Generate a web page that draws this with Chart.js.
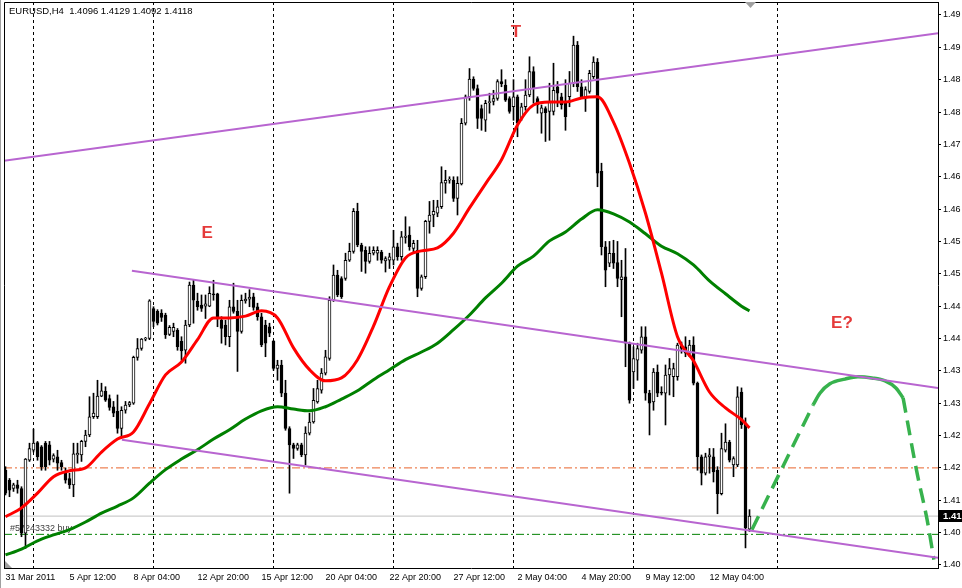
<!DOCTYPE html>
<html><head><meta charset="utf-8">
<script src="https://cdn.jsdelivr.net/npm/chart.js@4/dist/chart.umd.min.js"></script>
<style>html,body{margin:0;padding:0;background:#fff;overflow:hidden}canvas{display:block}</style>
</head><body>
<canvas id="c" width="962" height="588"></canvas>
<script>
// ---------- data ----------
const symbol = 'EURUSD,H4';
const openP = [1.4196,1.4179,1.4165,1.4171,1.4165,1.4089,1.4213,1.4230,1.4243,1.4236,1.4242,1.4239,1.4215,1.4219,1.4209,1.4194,1.4182,1.4171,1.4222,1.4222,1.4245,1.4256,1.4287,1.4287,1.4322,1.4330,1.4318,1.4304,1.4296,1.4267,1.4298,1.4307,1.4310,1.4388,1.4403,1.4419,1.4420,1.4471,1.4466,1.4463,1.4460,1.4427,1.4432,1.4434,1.4415,1.4400,1.4443,1.4511,1.4483,1.4477,1.4475,1.4475,1.4496,1.4496,1.4451,1.4443,1.4423,1.4474,1.4466,1.4432,1.4484,1.4487,1.4491,1.4474,1.4457,1.4443,1.4440,1.4415,1.4369,1.4375,1.4327,1.4267,1.4239,1.4233,1.4239,1.4222,1.4259,1.4278,1.4312,1.4332,1.4361,1.4386,1.4485,1.4528,1.4522,1.4522,1.4553,1.4568,1.4636,1.4579,1.4570,1.4551,1.4565,1.4565,1.4567,1.4552,1.4553,1.4553,1.4576,1.4559,1.4592,1.4596,1.4573,1.4570,1.4505,1.4525,1.4619,1.4630,1.4633,1.4644,1.4684,1.4689,1.4689,1.4658,1.4683,1.4786,1.4831,1.4861,1.4845,1.4811,1.4791,1.4821,1.4823,1.4828,1.4857,1.4851,1.4828,1.4814,1.4831,1.4794,1.4814,1.4834,1.4874,1.4828,1.4803,1.4811,1.4806,1.4806,1.4848,1.4831,1.4823,1.4831,1.4854,1.4919,1.4848,1.4831,1.4840,1.4865,1.4890,1.4704,1.4576,1.4548,1.4565,1.4549,1.4520,1.4525,1.4412,1.4363,1.4383,1.4400,1.4423,1.4327,1.4312,1.4363,1.4329,1.4327,1.4358,1.4355,1.4355,1.4407,1.4406,1.4395,1.4409,1.4344,1.4219,1.4191,1.4219,1.4219,1.4196,1.4156,1.4230,1.4244,1.4205,1.4205,1.4329,1.4276,1.4096];
const highP = [1.4202,1.4182,1.4174,1.4179,1.4168,1.4216,1.4242,1.4266,1.4245,1.4238,1.4245,1.4245,1.4224,1.4230,1.4213,1.4200,1.4191,1.4242,1.4242,1.4247,1.4264,1.4321,1.4327,1.4349,1.4344,1.4338,1.4324,1.4313,1.4324,1.4304,1.4313,1.4313,1.4390,1.4420,1.4420,1.4422,1.4486,1.4474,1.4469,1.4469,1.4463,1.4442,1.4446,1.4437,1.4423,1.4451,1.4516,1.4519,1.4497,1.4494,1.4494,1.4508,1.4519,1.4497,1.4457,1.4451,1.4485,1.4514,1.4485,1.4494,1.4497,1.4503,1.4497,1.4480,1.4463,1.4451,1.4446,1.4417,1.4383,1.4383,1.4349,1.4270,1.4242,1.4242,1.4242,1.4270,1.4293,1.4335,1.4349,1.4369,1.4400,1.4491,1.4545,1.4536,1.4525,1.4565,1.4582,1.4641,1.4650,1.4582,1.4576,1.4576,1.4576,1.4576,1.4570,1.4559,1.4565,1.4604,1.4582,1.4602,1.4627,1.4610,1.4587,1.4587,1.4528,1.4621,1.4653,1.4655,1.4655,1.4712,1.4706,1.4695,1.4695,1.4695,1.4794,1.4834,1.4879,1.4865,1.4851,1.4817,1.4825,1.4837,1.4842,1.4860,1.4877,1.4860,1.4831,1.4860,1.4834,1.4820,1.4860,1.4899,1.4882,1.4831,1.4817,1.4814,1.4854,1.4888,1.4857,1.4837,1.4860,1.4874,1.4934,1.4925,1.4860,1.4848,1.4876,1.4899,1.4896,1.4718,1.4585,1.4585,1.4587,1.4585,1.4553,1.4573,1.4414,1.4406,1.4412,1.4440,1.4440,1.4332,1.4369,1.4375,1.4338,1.4375,1.4386,1.4378,1.4412,1.4414,1.4423,1.4417,1.4423,1.4346,1.4222,1.4225,1.4233,1.4233,1.4202,1.4259,1.4275,1.4247,1.4219,1.4338,1.4336,1.4285,1.4129];
const lowP = [1.4154,1.4151,1.4160,1.4157,1.4083,1.4063,1.4211,1.4227,1.4213,1.4196,1.4196,1.4205,1.4210,1.4196,1.4196,1.4174,1.4165,1.4151,1.4208,1.4211,1.4236,1.4253,1.4284,1.4284,1.4321,1.4313,1.4298,1.4287,1.4259,1.4253,1.4293,1.4304,1.4308,1.4383,1.4400,1.4416,1.4418,1.4440,1.4443,1.4449,1.4420,1.4425,1.4423,1.4400,1.4383,1.4378,1.4440,1.4446,1.4468,1.4466,1.4454,1.4474,1.4485,1.4440,1.4412,1.4409,1.4406,1.4463,1.4364,1.4429,1.4480,1.4474,1.4468,1.4451,1.4406,1.4389,1.4423,1.4366,1.4349,1.4321,1.4264,1.4157,1.4216,1.4230,1.4219,1.4205,1.4256,1.4276,1.4310,1.4327,1.4358,1.4383,1.4483,1.4491,1.4488,1.4519,1.4551,1.4565,1.4576,1.4534,1.4531,1.4548,1.4562,1.4553,1.4548,1.4533,1.4539,1.4545,1.4553,1.4553,1.4582,1.4570,1.4565,1.4491,1.4502,1.4522,1.4599,1.4610,1.4627,1.4641,1.4667,1.4684,1.4653,1.4630,1.4681,1.4783,1.4825,1.4842,1.4777,1.4774,1.4772,1.4803,1.4817,1.4825,1.4848,1.4823,1.4803,1.4791,1.4763,1.4791,1.4808,1.4831,1.4820,1.4803,1.4769,1.4755,1.4757,1.4800,1.4814,1.4810,1.4774,1.4814,1.4848,1.4840,1.4828,1.4806,1.4837,1.4862,1.4678,1.4562,1.4508,1.4542,1.4539,1.4508,1.4457,1.4372,1.4310,1.4335,1.4349,1.4395,1.4315,1.4256,1.4298,1.4321,1.4324,1.4273,1.4324,1.4321,1.4349,1.4395,1.4389,1.4389,1.4341,1.4196,1.4171,1.4188,1.4191,1.4176,1.4122,1.4154,1.4227,1.4210,1.4185,1.4202,1.4267,1.4064,1.4092];
const closeP = [1.4157,1.4162,1.4171,1.4165,1.4089,1.4215,1.4233,1.4242,1.4219,1.4202,1.4202,1.4213,1.4221,1.4208,1.4202,1.4179,1.4171,1.4224,1.4225,1.4245,1.4256,1.4287,1.4293,1.4322,1.4331,1.4315,1.4303,1.4293,1.4267,1.4298,1.4307,1.4311,1.4388,1.4403,1.4419,1.4420,1.4484,1.4449,1.4446,1.4456,1.4426,1.4439,1.4439,1.4406,1.4399,1.4443,1.4511,1.4485,1.4474,1.4471,1.4479,1.4497,1.4494,1.4457,1.4437,1.4423,1.4474,1.4466,1.4432,1.4485,1.4487,1.4490,1.4473,1.4457,1.4409,1.4412,1.4429,1.4369,1.4375,1.4327,1.4267,1.4239,1.4233,1.4239,1.4222,1.4259,1.4278,1.4315,1.4335,1.4361,1.4389,1.4485,1.4528,1.4494,1.4491,1.4553,1.4568,1.4636,1.4579,1.4568,1.4551,1.4565,1.4570,1.4570,1.4553,1.4556,1.4559,1.4576,1.4559,1.4593,1.4594,1.4576,1.4582,1.4505,1.4525,1.4619,1.4630,1.4636,1.4644,1.4685,1.4689,1.4691,1.4658,1.4684,1.4786,1.4831,1.4861,1.4845,1.4794,1.4794,1.4820,1.4823,1.4828,1.4857,1.4853,1.4825,1.4806,1.4831,1.4786,1.4814,1.4834,1.4874,1.4845,1.4817,1.4812,1.4804,1.4823,1.4842,1.4837,1.4817,1.4797,1.4854,1.4919,1.4848,1.4831,1.4843,1.4871,1.4890,1.4701,1.4576,1.4536,1.4565,1.4548,1.4522,1.4525,1.4412,1.4315,1.4386,1.4403,1.4423,1.4327,1.4310,1.4363,1.4327,1.4327,1.4358,1.4369,1.4369,1.4409,1.4403,1.4395,1.4409,1.4344,1.4219,1.4191,1.4219,1.4222,1.4193,1.4156,1.4233,1.4244,1.4213,1.4216,1.4321,1.4273,1.4098,1.4118];

// moving averages, read every 4 bars
const maIdx = [0,4,8,12,16,20,24,28,32,36,40,44,48,52,56,60,64,68,72,76,80,84,88,92,96,100,104,108,112,116,120,124,128,132,136,140,144,148,152,156,160,164,168,172,176,180,184,186];
const maRed = [1.4117,1.4132,1.4157,1.4185,1.4195,1.4200,1.4227,1.4249,1.4261,1.4309,1.4358,1.4380,1.4418,1.4455,1.4455,1.4458,1.4467,1.4455,1.4404,1.4367,1.4348,1.4353,1.4384,1.4441,1.4508,1.4557,1.4569,1.4574,1.4599,1.4642,1.4683,1.4724,1.4783,1.4817,1.4822,1.4822,1.4829,1.4831,1.4788,1.4718,1.4633,1.4531,1.4423,1.4382,1.4329,1.4302,1.4282,1.4268];
const maGreen = [1.4052,1.4062,1.4076,1.4086,1.4095,1.4108,1.4123,1.4135,1.4149,1.4174,1.4197,1.4215,1.4231,1.4249,1.4265,1.4283,1.4297,1.4304,1.4300,1.4297,1.4304,1.4317,1.4331,1.4350,1.4367,1.4384,1.4397,1.4412,1.4435,1.4460,1.4489,1.4514,1.4543,1.4560,1.4586,1.4601,1.4623,1.4639,1.4632,1.4618,1.4598,1.4577,1.4564,1.4545,1.4518,1.4496,1.4475,1.4467];

// trend lines [startIdx, startPrice, endIdx, endPrice]
const upperLine = [-0.375, 1.4722, 233.125, 1.4939];
const midLine   = [31.6, 1.4535, 233.125, 1.4336];
const lowLine   = [29.1, 1.4248, 233.125, 1.4047];

// projected path
const projUpIdx = [186.6, 201.9];            const projUpVal = [1.4095, 1.4307];
const projArcIdx = [201.9, 203.6, 206.1, 209.9, 213.1, 216.6, 219.9, 222.6, 224.4];
const projArcVal = [1.4307, 1.4327, 1.4343, 1.4351, 1.4355, 1.4353, 1.4348, 1.4336, 1.4319];
const projDnIdx = [224.4, 227.9, 230.4, 232.1]; const projDnVal = [1.4319, 1.4191, 1.4112, 1.4044];

// horizontal levels
const bidPrice = 1.4118;
const tpPrice = 1.4200;
const orderPrice = 1.4087;
const orderText = '#57243332 buy';

// annotations
const noteText = ['T', 'E', 'E?'];
const noteIdx = [127.6, 50.4, 209.1];
const noteVal = [1.4941, 1.4598, 1.4445];

// axes
const xLabelIdx = [0,16,32,48,64,80,96,112,128,144,160,176];
const xLabels = ['31 Mar 2011','5 Apr 12:00','8 Apr 04:00','12 Apr 20:00','15 Apr 12:00','20 Apr 04:00','22 Apr 20:00','27 Apr 12:00','2 May 04:00','4 May 20:00','9 May 12:00','12 May 04:00'];
const gridIdx = [7,37,67,97,127,157,193];
const yTickVals = [1.4970,1.4915,1.4860,1.4805,1.4750,1.4695,1.4640,1.4585,1.4530,1.4475,1.4420,1.4365,1.4310,1.4255,1.4200,1.4145,1.4090,1.4035];
const yTickLabels = ['1.49','1.49','1.48','1.48','1.47','1.46','1.46','1.45','1.45','1.44','1.44','1.43','1.43','1.42','1.42','1.41','1.40','1.40'];

const X_MIN = -0.375, X_MAX = 233.125;
const Y_MIN = 1.40298, Y_MAX = 1.49921;
const FONT = '"Liberation Sans", Arial, sans-serif';

// ---------- build ----------
const idx = openP.map((_, i) => i);
const pts = (xs, ys) => xs.map((x, k) => ({x: x, y: ys[k]}));
const seg = a => [{x: a[0], y: a[1]}, {x: a[2], y: a[3]}];
const hline = v => [{x: X_MIN, y: v}, {x: X_MAX, y: v}];
const last = openP.length - 1;

const lineDs = (data, color, width, order, extra) => Object.assign({
  type: 'line', data: data, borderColor: color, borderWidth: width, pointRadius: 0,
  fill: false, order: order, tension: 0
}, extra || {});

const decor = {
  id: 'decor',
  beforeDraw(chart) {
    const c = chart.ctx;
    c.save();
    c.fillStyle = '#ffffff';
    c.fillRect(0, 0, chart.width, chart.height);
    c.fillStyle = '#a0a0a0';
    c.fillRect(0, 0, 1, chart.height);
    c.restore();
  },
  beforeDatasetsDraw(chart) {
    const c = chart.ctx, xs = chart.scales.x, ys = chart.scales.y;
    c.save();
    c.font = '9px ' + FONT;
    c.fillStyle = '#404040';
    c.textBaseline = 'bottom';
    c.fillText(orderText, xs.getPixelForValue(1.1), ys.getPixelForValue(orderPrice) - 1);
    c.restore();
  },
  afterDatasetsDraw(chart) {
    const c = chart.ctx, xs = chart.scales.x, ys = chart.scales.y, a = chart.chartArea;
    c.save();
    c.strokeStyle = '#000'; c.lineWidth = 1;
    c.beginPath();
    c.moveTo(a.left + 0.5, a.bottom); c.lineTo(a.left + 0.5, a.top + 0.5); c.lineTo(a.right, a.top + 0.5);
    c.stroke();
    c.font = '9.5px ' + FONT;
    c.fillStyle = '#000';
    c.textBaseline = 'middle';
    const hdr = symbol + '  ' + [openP[last], highP[last], lowP[last], closeP[last]].map(v => v.toFixed(4)).join(' ');
    c.fillText(hdr, a.left + 5, a.top + 9);
    c.fillStyle = '#a0a0a0';
    c.beginPath(); c.moveTo(745, a.top); c.lineTo(756, a.top); c.lineTo(750.5, a.top + 6); c.closePath(); c.fill();
    c.beginPath(); c.moveTo(a.left + 1, a.bottom - 7); c.lineTo(a.left + 1, a.bottom); c.lineTo(a.left + 8, a.bottom); c.closePath(); c.fill();
    c.font = 'bold 17px ' + FONT;
    c.fillStyle = '#e53a3a';
    c.textAlign = 'center';
    noteText.forEach((t, k) => c.fillText(t, xs.getPixelForValue(noteIdx[k]), ys.getPixelForValue(noteVal[k])));
    c.restore();
  },
  afterDraw(chart) {
    const c = chart.ctx, ys = chart.scales.y, a = chart.chartArea;
    const py = Math.round(ys.getPixelForValue(closeP[last]));
    c.save();
    c.fillStyle = '#000';
    c.fillRect(a.right + 1, py - 6, chart.width - a.right - 1, 12);
    c.fillStyle = '#fff';
    c.font = 'bold 9.5px ' + FONT;
    c.textBaseline = 'middle';
    c.fillText(closeP[last].toFixed(4).slice(0, 4), a.right + 5, py + 0.5);
    c.restore();
  }
};

new Chart(document.getElementById('c'), {
  type: 'bar',
  data: {
    datasets: [
      lineDs(seg(upperLine), '#b865d0', 2, 1),
      lineDs(seg(midLine), '#b865d0', 2, 1),
      lineDs(seg(lowLine), '#b865d0', 2, 1),
      lineDs(pts(projUpIdx, projUpVal), '#37b24d', 3.5, 1, {borderDash: [15, 8]}),
      lineDs(pts(projArcIdx, projArcVal), '#37b24d', 3.5, 1, {cubicInterpolationMode: 'monotone'}),
      lineDs(pts(projDnIdx, projDnVal), '#37b24d', 3.5, 1, {borderDash: [15, 8], cubicInterpolationMode: 'monotone'}),
      lineDs(pts(maIdx, maRed), '#ff0000', 3, 2, {cubicInterpolationMode: 'monotone'}),
      lineDs(pts(maIdx, maGreen), '#008000', 3, 3, {cubicInterpolationMode: 'monotone'}),
      {
        type: 'bar', order: 5, grouped: false, barThickness: 3, minBarLength: 1,
        data: idx.map(i => ({x: i, y: [openP[i], closeP[i]]})),
        backgroundColor: ctx => (closeP[ctx.dataIndex] >= openP[ctx.dataIndex] ? '#ffffff' : '#000000'),
        borderColor: '#000000', borderWidth: 1, borderSkipped: false
      },
      {
        type: 'bar', order: 6, grouped: false, barThickness: 1,
        data: idx.map(i => ({x: i, y: [lowP[i], highP[i]]})),
        backgroundColor: '#000000', borderWidth: 0
      },
      lineDs(hline(bidPrice), '#c0c0c0', 1, 8),
      lineDs(hline(tpPrice), '#e8642c', 1, 8, {borderDash: [8, 3, 2, 3]}),
      lineDs(hline(orderPrice), '#008000', 1, 8, {borderDash: [8, 3, 2, 3]})
    ]
  },
  options: {
    responsive: false, animation: false, devicePixelRatio: 1, events: [],
    layout: {padding: {left: 4, top: 2, right: 0, bottom: 0}},
    plugins: {legend: {display: false}, tooltip: {enabled: false}},
    scales: {
      x: {
        type: 'linear', position: 'bottom', min: X_MIN, max: X_MAX, offset: false,
        afterBuildTicks: s => { s.ticks = xLabelIdx.concat(gridIdx).sort((a, b) => a - b).map(v => ({value: v})); },
        afterFit: s => { s.height = 20; s.paddingLeft = 0; s.paddingRight = 0; },
        ticks: {
          autoSkip: false, maxRotation: 0, minRotation: 0, align: 'start', padding: 4,
          color: '#000', font: {family: FONT, size: 9},
          callback: v => { const k = xLabelIdx.indexOf(v); return k >= 0 ? xLabels[k] : ''; }
        },
        grid: {
          offset: false, drawOnChartArea: true, drawTicks: false, lineWidth: 1,
          color: c => (c.tick && gridIdx.includes(c.tick.value) ? '#000000' : 'rgba(0,0,0,0)')
        },
        border: {display: true, color: '#000', width: 1, dash: [3, 3]}
      },
      y: {
        type: 'linear', position: 'right', min: Y_MIN, max: Y_MAX,
        afterBuildTicks: s => { s.ticks = yTickVals.map(v => ({value: v})); },
        afterFit: s => { s.width = 24; s.paddingTop = 0; s.paddingBottom = 0; },
        ticks: {
          autoSkip: false, padding: 2, color: '#000', font: {family: FONT, size: 9},
          callback: v => { const k = yTickVals.indexOf(v); return k >= 0 ? yTickLabels[k] : ''; }
        },
        grid: {offset: false, drawOnChartArea: false, drawTicks: true, tickLength: 3, color: '#000'},
        border: {display: true, color: '#000', width: 1}
      }
    }
  },
  plugins: [decor]
});
</script>
</body></html>
